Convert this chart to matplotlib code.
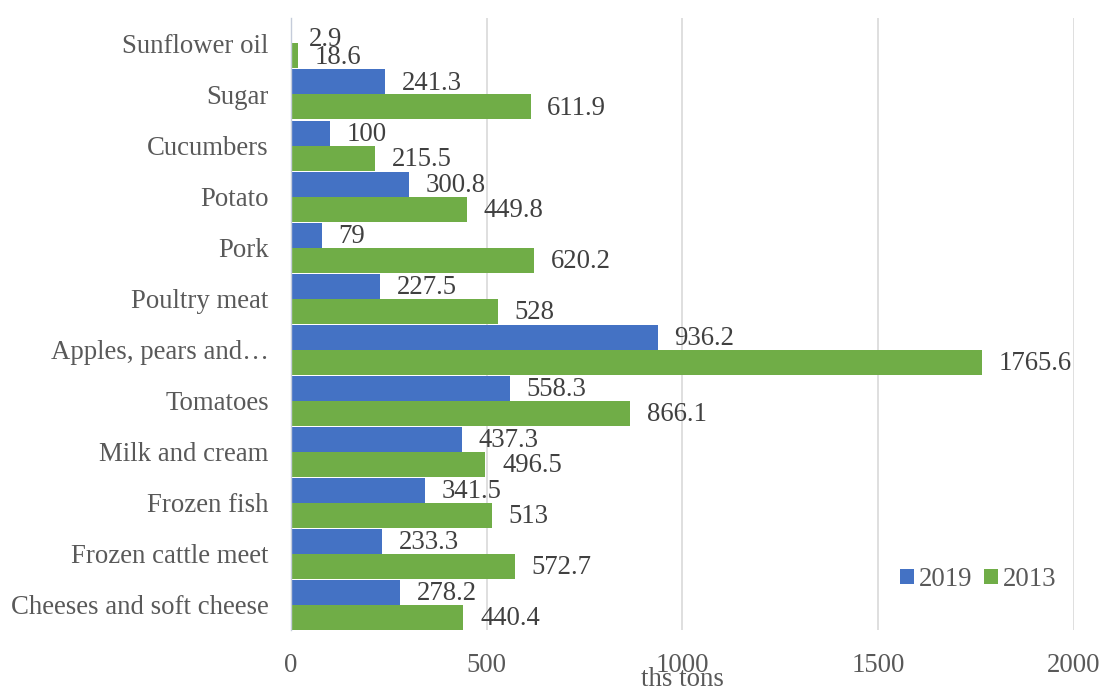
import matplotlib.pyplot as plt
import numpy as np

plt.rcParams['font.family'] = ['Liberation Serif', 'DejaVu Serif']

# categories listed bottom to top
products = ["Cheeses and soft cheese", "Frozen cattle meet", "Frozen fish", "Milk and cream",
            "Tomatoes", "Apples, pears and\u2026", "Poultry meat", "Pork", "Potato",
            "Cucumbers", "Sugar", "Sunflower oil"]
val_2019 = [278.2, 233.3, 341.5, 437.3, 558.3, 936.2, 227.5, 79, 300.8, 100, 241.3, 2.9]
val_2013 = [440.4, 572.7, 513, 496.5, 866.1, 1765.6, 528, 620.2, 449.8, 215.5, 611.9, 18.6]
years = ["2019", "2013"]

blue = "#4472C4"
green = "#70AD47"
txt = "#404040"

fig = plt.figure(figsize=(11.03, 6.91), dpi=100)
ax = fig.add_axes([0.2638, 0.088, 0.9737 - 0.2638, 0.886])

y = np.arange(len(products))
h = 0.49
b1 = ax.barh(y + h / 2, val_2019, height=h, color=blue, label=years[0], zorder=2)
b2 = ax.barh(y - h / 2, val_2013, height=h, color=green, label=years[1], zorder=2)

for bars, vals in ((b1, val_2019), (b2, val_2013)):
    for bar, v in zip(bars, vals):
        # tiny bar at the top: label pushed down a little, like the original
        dy = -6 if v < 5 else -1
        ax.annotate(f"{v:g}", (bar.get_width(), bar.get_y() + bar.get_height() / 2),
                    xytext=(12, dy), textcoords="offset points", va="center", ha="left",
                    fontsize=19.3, color=txt)

ax.set_xlim(0, 2000)
ax.set_ylim(-0.5, len(products) - 0.5)
ax.set_xticks([0, 500, 1000, 1500, 2000])
ax.set_yticks(y)
ax.set_yticklabels(products)
ax.tick_params(axis="both", length=0, labelsize=19.3, labelcolor="#595959")
ax.tick_params(axis="x", pad=16.5)
ax.tick_params(axis="y", pad=16)
ax.grid(axis="x", color="#D9D9D9", linewidth=1.2, zorder=0)
for s in ["top", "right", "bottom"]:
    ax.spines[s].set_visible(False)
ax.spines["left"].set_color("#C5CCDA")
ax.spines["left"].set_linewidth(1)
ax.spines["left"].set_zorder(3)

ax.set_xlabel("ths tons", fontsize=19.3, color="#595959", labelpad=-8)

ax.legend(loc="center", bbox_to_anchor=(0.878, 0.083), ncol=2, frameon=False, fontsize=19.3,
          handlelength=0.5, handleheight=0.5, handletextpad=0.2, columnspacing=0.45,
          labelcolor="#595959")

fig.savefig("out.png", dpi=100)
